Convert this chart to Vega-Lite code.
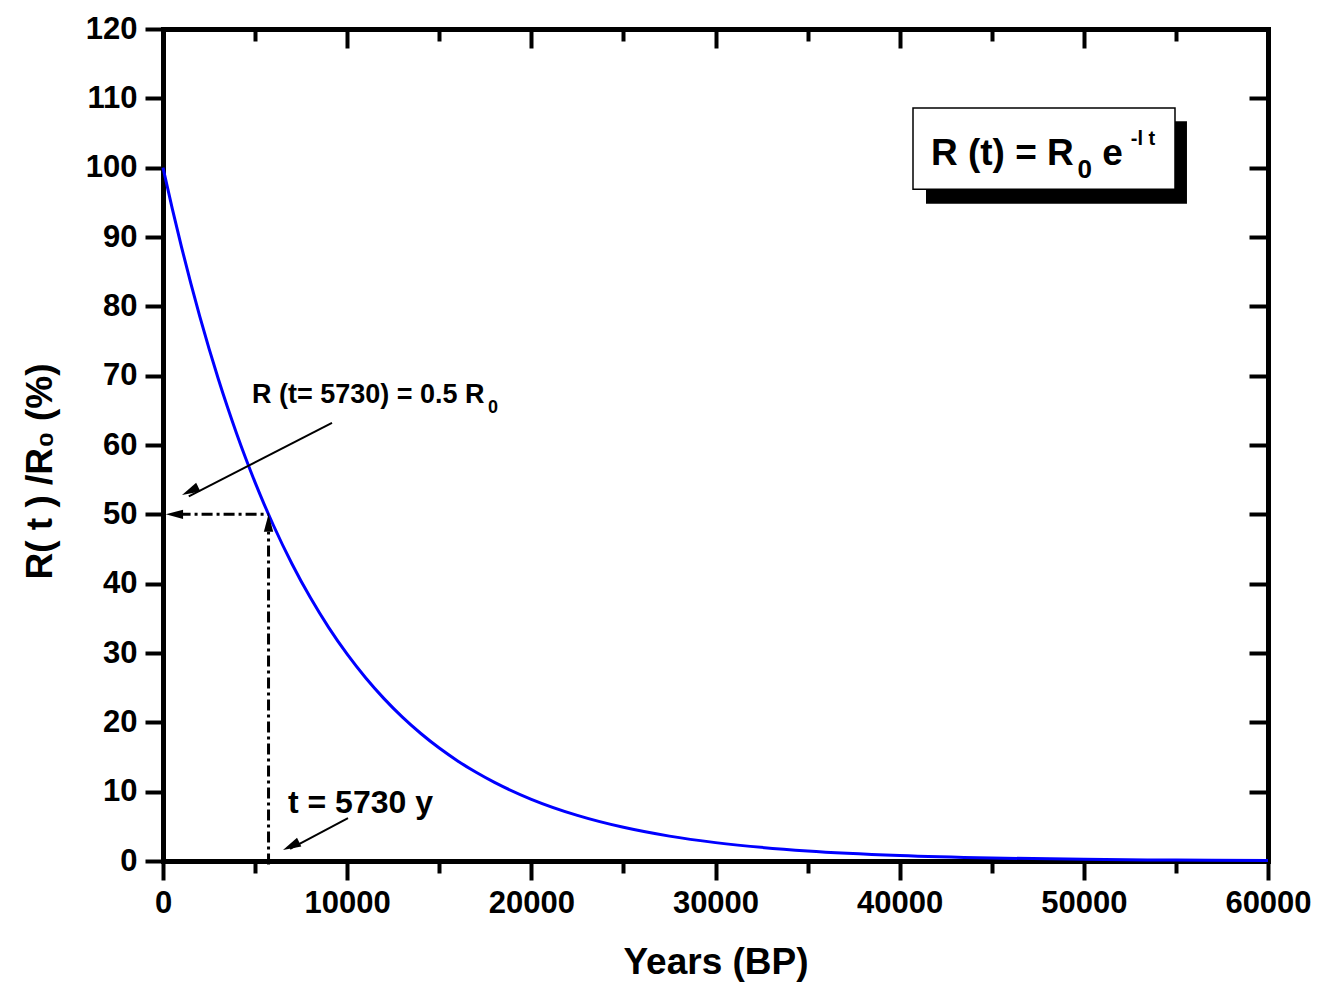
{
  "$schema": "https://vega.github.io/schema/vega-lite/v6.json",
  "width": 1105,
  "height": 832,
  "autosize": "none",
  "padding": {"left": 163, "top": 29, "right": 52, "bottom": 128},
  "background": "white",
  "view": {"stroke": null},
  "config": {
    "font": "Liberation Sans, Arial",
    "axis": {
      "domainColor": "black", "domainWidth": 5, "domainCap": "square",
      "tickColor": "black", "tickWidth": 4, "grid": false,
      "labelFont": "Liberation Sans, Arial",
      "labelFontWeight": "bold", "labelFontSize": 31, "labelColor": "black",
      "titleFont": "Liberation Sans, Arial",
      "titleFontWeight": "bold", "titleColor": "black", "titleFontSize": 37,
      "labelOverlap": false, "labelFlush": false
    },
    "text": {"font": "Liberation Sans, Arial", "fontWeight": "bold", "color": "black", "align": "left", "baseline": "alphabetic"}
  },
  "resolve": {"scale": {"x": "shared", "y": "shared"}, "axis": {"x": "independent", "y": "independent"}},
  "layer": [
    {
      "data": {"values": [
        {"t": 0, "r": 100}, {"t": 500, "r": 94.13}, {"t": 1000, "r": 88.61}, {"t": 1500, "r": 83.41},
        {"t": 2000, "r": 78.51}, {"t": 2500, "r": 73.90}, {"t": 3000, "r": 69.56}, {"t": 3500, "r": 65.48},
        {"t": 4000, "r": 61.64}, {"t": 4500, "r": 58.02}, {"t": 5000, "r": 54.61}, {"t": 5500, "r": 51.41},
        {"t": 5730, "r": 50.0}, {"t": 6000, "r": 48.39}, {"t": 7000, "r": 42.88}, {"t": 8000, "r": 37.99},
        {"t": 9000, "r": 33.66}, {"t": 10000, "r": 29.83}, {"t": 11000, "r": 26.43}, {"t": 12000, "r": 23.42},
        {"t": 13000, "r": 20.75}, {"t": 14000, "r": 18.39}, {"t": 15000, "r": 16.29}, {"t": 16000, "r": 14.44},
        {"t": 17000, "r": 12.79}, {"t": 18000, "r": 11.33}, {"t": 20000, "r": 8.90}, {"t": 22500, "r": 6.58},
        {"t": 25000, "r": 4.86}, {"t": 27500, "r": 3.59}, {"t": 30000, "r": 2.65}, {"t": 35000, "r": 1.45},
        {"t": 40000, "r": 0.79}, {"t": 45000, "r": 0.43}, {"t": 50000, "r": 0.24}, {"t": 55000, "r": 0.13},
        {"t": 60000, "r": 0.07}
      ]},
      "mark": {"type": "line", "color": "#0000FF", "strokeWidth": 3, "interpolate": "monotone"},
      "encoding": {
        "x": {"field": "t", "type": "quantitative", "scale": {"domain": [0, 60000], "nice": false, "zero": false},
          "axis": {"orient": "bottom", "values": [0, 10000, 20000, 30000, 40000, 50000, 60000], "tickSize": 19, "labelPadding": 8,
            "format": "d", "title": "Years (BP)", "titleY": 112, "titleBaseline": "alphabetic"}},
        "y": {"field": "r", "type": "quantitative", "scale": {"domain": [0, 120], "nice": false, "zero": false},
          "axis": {"orient": "left", "values": [0, 10, 20, 30, 40, 50, 60, 70, 80, 90, 100, 110, 120], "tickSize": 18, "labelPadding": 8,
            "title": "R( t ) /R₀ (%)", "titleX": -112, "titleY": 442, "titleAngle": 270, "titleBaseline": "alphabetic"}}
      }
    },
    {
      "data": {"values": [
        {"x": 900, "x2": 5730, "y": 50, "y2": 50},
        {"x": 5730, "x2": 5730, "y": -0.5, "y2": 47.5}
      ]},
      "mark": {"type": "rule", "color": "black", "strokeWidth": 3, "strokeDash": [11, 4, 3, 4]},
      "encoding": {
        "x": {"field": "x", "type": "quantitative", "scale": {"domain": [0, 60000], "nice": false, "zero": false},
          "axis": {"orient": "bottom", "values": [5000, 15000, 25000, 35000, 45000, 55000], "tickSize": 12, "labels": false, "domain": false, "title": null}},
        "x2": {"field": "x2"},
        "y": {"field": "y", "type": "quantitative", "scale": {"domain": [0, 120], "nice": false, "zero": false},
          "axis": {"orient": "right", "values": [0, 10, 20, 30, 40, 50, 60, 70, 80, 90, 100, 110, 120], "tickSize": -19, "labels": false, "title": null}},
        "y2": {"field": "y2"}
      }
    },
    {
      "data": {"values": [
        {"x": 9176, "y": 63.2, "x2": 1400, "y2": 52.6},
        {"x": 10045, "y": 6.2, "x2": 6900, "y2": 1.75}
      ]},
      "mark": {"type": "rule", "color": "black", "strokeWidth": 2},
      "encoding": {
        "x": {"field": "x", "type": "quantitative", "scale": {"domain": [0, 60000], "nice": false, "zero": false},
          "axis": {"orient": "top", "values": [0, 10000, 20000, 30000, 40000, 50000, 60000], "tickSize": -19, "labels": false, "title": null}},
        "x2": {"field": "x2"},
        "y": {"field": "y", "type": "quantitative", "scale": {"domain": [0, 120], "nice": false, "zero": false}, "axis": null},
        "y2": {"field": "y2"}
      }
    },
    {
      "data": {"values": [{"x": 41430, "x2": 55600, "y": 94.8, "y2": 106.7}]},
      "mark": {"type": "rect", "color": "black"},
      "encoding": {
        "x": {"field": "x", "type": "quantitative", "scale": {"domain": [0, 60000], "nice": false, "zero": false},
          "axis": {"orient": "top", "values": [5000, 15000, 25000, 35000, 45000, 55000], "tickSize": -12, "labels": false, "domain": false, "title": null}},
        "x2": {"field": "x2"},
        "y": {"field": "y", "type": "quantitative", "scale": {"domain": [0, 120], "nice": false, "zero": false}, "axis": null},
        "y2": {"field": "y2"}
      }
    },
    {
      "data": {"values": [{"x": 40724, "x2": 54950, "y": 96.9, "y2": 108.6}]},
      "mark": {"type": "rect", "fill": "white", "stroke": "black", "strokeWidth": 1.5},
      "encoding": {
        "x": {"field": "x", "type": "quantitative", "scale": {"domain": [0, 60000], "nice": false, "zero": false}, "axis": null},
        "x2": {"field": "x2"},
        "y": {"field": "y", "type": "quantitative", "scale": {"domain": [0, 120], "nice": false, "zero": false}, "axis": null},
        "y2": {"field": "y2"}
      }
    },
    {
      "data": {"values": [
        {"id": "a1", "x": 1032, "y": 52.8},
        {"id": "a2", "x": 6516, "y": 1.59},
        {"id": "h", "x": 150, "y": 50},
        {"id": "v", "x": 5730, "y": 50}
      ]},
      "layer": [
        {"transform": [{"filter": "datum.id === 'a1'"}], "mark": {"type": "point", "shape": "M0,0 L-0.27,1 L0.27,1 Z", "filled": true, "color": "black", "opacity": 1, "size": 1300, "angle": 244.4}},
        {"transform": [{"filter": "datum.id === 'a2'"}], "mark": {"type": "point", "shape": "M0,0 L-0.27,1 L0.27,1 Z", "filled": true, "color": "black", "opacity": 1, "size": 1300, "angle": 243.8}},
        {"transform": [{"filter": "datum.id === 'h'"}], "mark": {"type": "point", "shape": "M0,0 L-0.27,1 L0.27,1 Z", "filled": true, "color": "black", "opacity": 1, "size": 1200, "angle": 270}},
        {"transform": [{"filter": "datum.id === 'v'"}], "mark": {"type": "point", "shape": "M0,0 L-0.27,1 L0.27,1 Z", "filled": true, "color": "black", "opacity": 1, "size": 1200, "angle": 0}}
      ],
      "encoding": {
        "x": {"field": "x", "type": "quantitative", "scale": {"domain": [0, 60000], "nice": false, "zero": false}, "axis": null},
        "y": {"field": "y", "type": "quantitative", "scale": {"domain": [0, 120], "nice": false, "zero": false}, "axis": null}
      }
    },
    {
      "data": {"values": [
        {"id": "f1", "x": 41700, "y": 100.39, "label": "R (t) = R"},
        {"id": "f2", "x": 49650, "y": 98.5, "label": "0"},
        {"id": "f3", "x": 51000, "y": 100.39, "label": "e"},
        {"id": "f4", "x": 52550, "y": 103.28, "label": "-l t"},
        {"id": "n1", "x": 4832, "y": 66.06, "label": "R (t= 5730) = 0.5 R"},
        {"id": "n2", "x": 17647, "y": 64.6, "label": "0"},
        {"id": "n3", "x": 6787, "y": 6.92, "label": "t = 5730 y"}
      ]},
      "layer": [
        {"transform": [{"filter": "datum.id === 'f1' || datum.id === 'f3'"}], "mark": {"type": "text", "fontSize": 37}},
        {"transform": [{"filter": "datum.id === 'f2'"}], "mark": {"type": "text", "fontSize": 26}},
        {"transform": [{"filter": "datum.id === 'f4'"}], "mark": {"type": "text", "fontSize": 20}},
        {"transform": [{"filter": "datum.id === 'n1'"}], "mark": {"type": "text", "fontSize": 27}},
        {"transform": [{"filter": "datum.id === 'n2'"}], "mark": {"type": "text", "fontSize": 18}},
        {"transform": [{"filter": "datum.id === 'n3'"}], "mark": {"type": "text", "fontSize": 32}}
      ],
      "encoding": {
        "x": {"field": "x", "type": "quantitative", "scale": {"domain": [0, 60000], "nice": false, "zero": false}, "axis": null},
        "y": {"field": "y", "type": "quantitative", "scale": {"domain": [0, 120], "nice": false, "zero": false}, "axis": null},
        "text": {"field": "label"}
      }
    }
  ]
}
